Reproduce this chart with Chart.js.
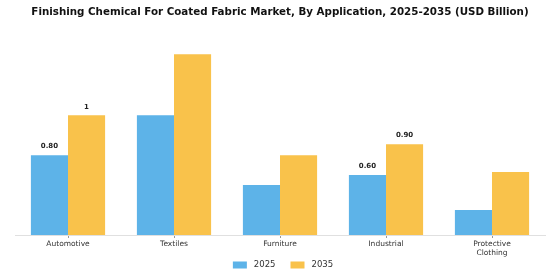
<!DOCTYPE html>
<html>
<head>
<meta charset="utf-8">
<script src="https://cdn.jsdelivr.net/npm/chart.js@4.4.1/dist/chart.umd.min.js"></script>
<style>
  html, body { margin: 0; padding: 0; background: #ffffff; }
  #wrap { width: 560px; height: 280px; }
</style>
</head>
<body>
<div id="wrap"><canvas id="chart" width="560" height="280"></canvas></div>
<script>
const categories = ["Automotive", "Textiles", "Furniture", "Industrial", ["Protective", "Clothing"]]
const values2025 = [0.8, 1.2, 0.5, 0.6, 0.25]
const values2035 = [1.2, 1.81, 0.8, 0.91, 0.63]
const labels2025 = ["0.80", "", "", "0.60", ""]
const labels2035 = ["1", "", "", "0.90", ""]

const barLabels = {
  id: "barLabels",
  afterDatasetsDraw(chart) {
    const ctx = chart.ctx
    ctx.save()
    ctx.font = "bold 7px 'DejaVu Sans'"
    ctx.fillStyle = "#222222"
    ctx.textAlign = "center"
    ctx.textBaseline = "bottom"
    chart.data.datasets.forEach((ds, i) => {
      const meta = chart.getDatasetMeta(i)
      meta.data.forEach((bar, j) => {
        const text = ds.barText[j]
        if (text) ctx.fillText(text, bar.x, bar.y - 5)
      })
    })
    ctx.restore()
  },
}

// legend drawn by hand so the gaps match the original
const bottomLegend = {
  id: "bottomLegend",
  afterDraw(chart) {
    const ctx = chart.ctx
    const boxW = 14, boxH = 7, textGap = 7, itemGap = 15
    ctx.save()
    ctx.font = "8.5px 'DejaVu Sans'"
    ctx.textBaseline = "middle"
    const items = chart.data.datasets.map((ds) => ({ text: ds.label, color: ds.backgroundColor, w: ctx.measureText(ds.label).width }))
    const total = items.reduce((s, it) => s + boxW + textGap + it.w, 0) + itemGap * (items.length - 1)
    let x = 283 - total / 2
    const y = 265
    items.forEach((it) => {
      ctx.fillStyle = it.color
      ctx.fillRect(x, y - boxH / 2, boxW, boxH)
      ctx.fillStyle = "#333333"
      ctx.fillText(it.text, x + boxW + textGap, y)
      x += boxW + textGap + it.w + itemGap
    })
    ctx.restore()
  },
}

new Chart(document.getElementById("chart"), {
  type: "bar",
  data: {
    labels: categories,
    datasets: [
      {
        label: "2025",
        data: values2025,
        barText: labels2025,
        backgroundColor: "#5DB3E8",
        barPercentage: 1,
        categoryPercentage: 0.7,
      },
      {
        label: "2035",
        data: values2035,
        barText: labels2035,
        backgroundColor: "#F9C24B",
        barPercentage: 1,
        categoryPercentage: 0.7,
      },
    ],
  },
  options: {
    responsive: false,
    animation: false,
    layout: { padding: { left: 15, right: 15, top: 6, bottom: 20 } },
    plugins: {
      title: {
        display: true,
        text: "Finishing Chemical For Coated Fabric Market, By Application, 2025-2035 (USD Billion)",
        color: "#111111",
        font: { family: "'DejaVu Sans'", size: 10.3, weight: "bold" },
        padding: { top: 0, bottom: 17 },
      },
      legend: { display: false },
      tooltip: { enabled: false },
    },
    scales: {
      x: {
        grid: { display: true, drawOnChartArea: false, drawTicks: true, tickLength: 3, offset: false, color: "#999999" },
        border: { display: true, color: "#e0e0e0" },
        ticks: { color: "#333333", font: { family: "'DejaVu Sans'", size: 7.5 }, padding: 2, maxRotation: 0 },
      },
      y: {
        display: false,
        min: 0,
        max: 2.0,
      },
    },
  },
  plugins: [barLabels, bottomLegend],
})
</script>
</body>
</html>
